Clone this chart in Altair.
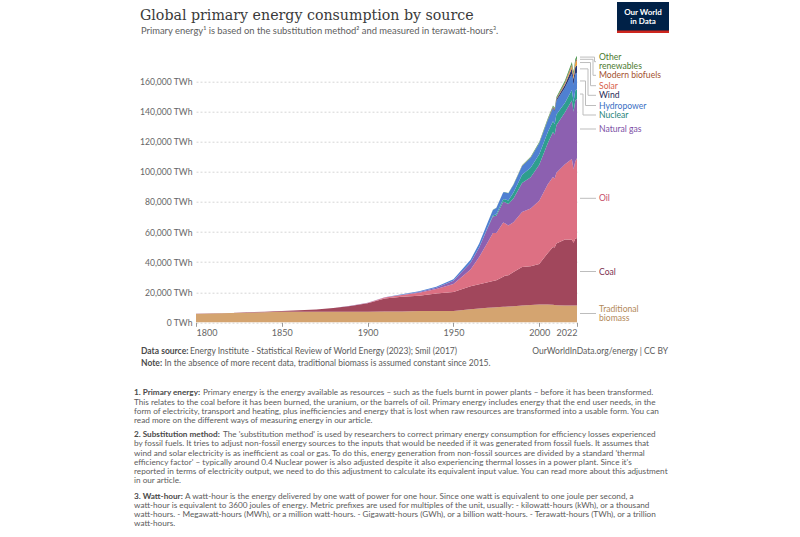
import altair as alt
import pandas as pd

# ---------------- data (TWh, substitution method) ----------------
years = [1800, 1810, 1820, 1830, 1840, 1850, 1860, 1870, 1880, 1890, 1900, 1910, 1920, 1930,
         1940, 1950, 1960, 1965, 1970, 1973, 1975, 1979, 1980, 1982, 1985, 1990, 1995, 2000,
         2005, 2008, 2009, 2010, 2015, 2019, 2020, 2021, 2022]

biomass = [5556, 5833, 6111, 6389, 6667, 6944, 6944, 6944, 6944, 6944, 6944, 7222, 7222, 7500,
           7500, 7500, 8600, 9200, 9600, 9900, 10000, 10300, 10400, 10500, 10700, 11200, 11500,
           11800, 11800, 11600, 11500, 11400, 11111, 11111, 11111, 11111, 11111]
coal = [97, 128, 153, 264, 356, 569, 1061, 1642, 2542, 3856, 5728, 8656, 9833, 10125, 11586,
        12603, 15442, 16140, 17000, 17500, 17900, 20000, 20500, 20800, 22800, 25600, 25700,
        27000, 34300, 38500, 38300, 41000, 44000, 43800, 41800, 44500, 45000]
oil = [0, 0, 0, 0, 0, 0, 0, 6, 33, 89, 181, 569, 1097, 1972, 3069, 5444, 11000, 18100, 26700,
       32000, 31500, 36000, 35000, 33000, 33000, 36500, 38500, 42000, 45700, 46500, 45800,
       47100, 50000, 53600, 48800, 51500, 53000]
gas = [0, 0, 0, 0, 0, 0, 0, 0, 0, 33, 64, 142, 233, 603, 875, 2092, 4600, 6300, 9600, 11000,
       11500, 13800, 14000, 14300, 15800, 19300, 20800, 24000, 27400, 30000, 29300, 31600,
       34500, 39000, 38300, 40300, 39400]
nuclear = [0] * 17 + [70, 220, 550, 1000, 1700, 1900, 2400, 4000, 5500, 6300, 7000, 7300, 7100,
                      7000, 7100, 6400, 6900, 6600, 6800, 6500]
hydro = [0] * 10 + [50, 100, 200, 400, 600, 1000, 2000] + [2600, 3400, 3800, 4100, 4600, 4700,
         4800, 5200, 5800, 6600, 7300, 7900, 8500, 8500, 9000, 9900, 10800, 11200, 11000, 10900]
wind = [0] * 25 + [10, 25, 85, 280, 560, 710, 900, 2100, 3500, 3900, 4500, 5200]
solar = [0] * 27 + [3, 10, 30, 50, 80, 650, 1700, 2100, 2500, 3200]
biofuels = [0] * 25 + [110, 120, 110, 220, 600, 650, 700, 850, 1050, 1000, 1050, 1100]
other = [0] * 17 + [50, 70, 90, 110, 150, 160, 190, 260, 370, 470, 560, 700, 840, 900, 980,
                    1300, 1650, 1700, 1800, 1850]

series_names = ["Traditional biomass", "Coal", "Oil", "Natural gas", "Nuclear", "Hydropower",
                "Wind", "Solar", "Modern biofuels", "Other renewables"]
series_values = [biomass, coal, oil, gas, nuclear, hydro, wind, solar, biofuels, other]
area_colors = ["#D4A470", "#A1475C", "#DD7083", "#8C60B0", "#2E9E8E", "#4F80D2",
               "#2B3A78", "#F0A23E", "#B5553F", "#4C9A52"]
label_colors = ["#B3895A", "#7C3050", "#C64B68", "#7C4FA5", "#1E8378", "#3A6FC4",
                "#1F2A55", "#D8624B", "#A4512E", "#4C7A2E"]

x_ticks = [1800, 1850, 1900, 1950, 2000, 2022]
y_ticks = [0, 20000, 40000, 60000, 80000, 100000, 120000, 140000, 160000]

rows = []
for i, (name, vals) in enumerate(zip(series_names, series_values)):
    for yr, v in zip(years, vals):
        rows.append({"year": yr, "source": name, "value": v, "ord": i})
df = pd.DataFrame(rows)

totals = [sum(s[k] for s in series_values) for k in range(len(years))]
ymax = max(totals)

# ---------------- layout ----------------
PX_PER = 0.001504
LEFT, RIGHT_EDGE, ZERO_Y = 196, 577, 322.3
W = RIGHT_EDGE - LEFT
H = ymax * PX_PER
TOP = ZERO_Y - H

FONT = "Lato"
GREY = "#5b5b5b"


def rx(x):
    return x - LEFT


def ry(y):
    return y - TOP


def texts(items, **mk):
    d = pd.DataFrame([{"t": t, "x": rx(x), "y": ry(y)} for t, x, y in items])
    return alt.Chart(d).mark_text(baseline="middle", **mk).encode(
        x=alt.X("x:Q", scale=None, axis=None),
        y=alt.Y("y:Q", scale=None, axis=None),
        text="t:N",
    )


area = alt.Chart(df).mark_area(interpolate="linear").encode(
    x=alt.X("year:Q",
            scale=alt.Scale(domain=[1800, 2022], nice=False, zero=False),
            axis=alt.Axis(values=x_ticks, format="d", labelFlush=True, grid=False,
                          domain=False, ticks=True, tickSize=4, tickColor="#999",
                          labelFont=FONT, labelFontSize=9, labelColor="#666",
                          labelPadding=2, title=None)),
    y=alt.Y("value:Q", stack="zero",
            scale=alt.Scale(domain=[0, ymax], nice=False),
            axis=alt.Axis(values=y_ticks, labelExpr="format(datum.value, ',') + ' TWh'",
                          grid=True, gridDash=[2, 2], gridColor="#d6d6d6", domain=False,
                          ticks=False, tickSize=0, labelFont=FONT, labelFontSize=8.6,
                          labelColor="#666", labelPadding=4, title=None)),
    color=alt.Color("source:N", scale=alt.Scale(domain=series_names, range=area_colors),
                    legend=None),
    order=alt.Order("ord:Q", sort="ascending"),
)

# ---------------- end labels with leader lines ----------------
last = {name: vals[-1] for name, vals in zip(series_names, series_values)}
cum = 0
mids = {}
for name in series_names:
    mids[name] = ZERO_Y - (cum + last[name] / 2) * PX_PER
    cum += last[name]

label_y = {"Other renewables": 61.7, "Modern biofuels": 75.3, "Solar": 85.7, "Wind": 95.3,
           "Hydropower": 105.5, "Nuclear": 115.0, "Natural gas": 129.0, "Oil": 198.3,
           "Coal": 271.5, "Traditional biomass": 313.5}
elbow_x = {"Nuclear": 583, "Hydropower": 585.5, "Wind": 588, "Solar": 590.5,
           "Modern biofuels": 593, "Other renewables": 594.5}

segs = []
x0, x1 = 580, 596
for name in series_names:
    ly = label_y[name]
    if name in elbow_x:
        ex = elbow_x[name]
        my = mids[name]
        segs += [(x0, my, ex, my), (ex, my, ex, ly), (ex, ly, x1, ly)]
    else:
        segs.append((x0, ly, x1, ly))
seg_df = pd.DataFrame([{"x": rx(a), "y": ry(b), "x2": rx(c), "y2": ry(d)} for a, b, c, d in segs])
leaders = alt.Chart(seg_df).mark_rule(color="#bdbdbd", strokeWidth=1).encode(
    x=alt.X("x:Q", scale=None, axis=None), x2="x2:Q",
    y=alt.Y("y:Q", scale=None, axis=None), y2="y2:Q",
)

label_lines = {"Other renewables": ["Other", "renewables"],
               "Traditional biomass": ["Traditional", "biomass"]}
label_layers = []
for name, col in zip(series_names, label_colors):
    lines = label_lines.get(name, [name])
    n = len(lines)
    items = [(ln, 599, label_y[name] + (k - (n - 1) / 2) * 8.8) for k, ln in enumerate(lines)]
    label_layers.append(texts(items, align="left", font=FONT, fontSize=8.6, color=col))

# ---------------- header / footer / notes ----------------
title = texts([("Global primary energy consumption by source", 140, 16)],
              align="left", font="DejaVu Serif", fontSize=14.2, color="#3a3a3a")
subtitle = texts([("Primary energy\u00b9 is based on the substitution method\u00b2 and measured in terawatt-hours\u00b3.", 141, 31)],
                 align="left", font=FONT, fontSize=9.4, color="#5e5e5e")

logo_bg = alt.Chart(pd.DataFrame({"a": [0]})).mark_rect(color="#002147").encode(
    x=alt.value(rx(617)), x2=alt.value(rx(669)), y=alt.value(ry(2)), y2=alt.value(ry(33)))
logo_red = alt.Chart(pd.DataFrame({"a": [0]})).mark_rect(color="#ce261e").encode(
    x=alt.value(rx(617)), x2=alt.value(rx(669)), y=alt.value(ry(30.5)), y2=alt.value(ry(33)))
logo_txt = texts([("Our World", 643, 12.5), ("in Data", 643, 21.5)],
                 align="center", font=FONT, fontSize=8, fontWeight="bold", color="white")

foot_bold = texts([("Data source:", 141, 351), ("Note:", 141, 362.5)],
                  align="left", font=FONT, fontSize=8.5, fontWeight="bold", color="#4a4a4a")
foot_reg = texts([("Energy Institute - Statistical Review of World Energy (2023); Smil (2017)", 190, 351),
                  ("In the absence of more recent data, traditional biomass is assumed constant since 2015.", 164.5, 362.5)],
                 align="left", font=FONT, fontSize=8.5, color=GREY)
foot_right = texts([("OurWorldInData.org/energy | CC BY", 668, 351)],
                   align="right", font=FONT, fontSize=8.5, color=GREY)

NF = 8.2
notes_bold = texts([("1. Primary energy:", 134, 393.3),
                    ("2. Substitution method:", 134, 435.3),
                    ("3. Watt-hour:", 134, 496.5)],
                   align="left", font=FONT, fontSize=NF, fontWeight="bold", color="#4a4a4a")
notes_reg = texts([
    ("Primary energy is the energy available as resources \u2013 such as the fuels burnt in power plants \u2013 before it has been transformed.", 203, 393.3),
    ("This relates to the coal before it has been burned, the uranium, or the barrels of oil. Primary energy includes energy that the end user needs, in the", 134, 402.6),
    ("form of electricity, transport and heating, plus inefficiencies and energy that is lost when raw resources are transformed into a usable form. You can", 134, 412.0),
    ("read more on the different ways of measuring energy in our article.", 134, 421.3),
    ("The 'substitution method' is used by researchers to correct primary energy consumption for efficiency losses experienced", 223, 435.3),
    ("by fossil fuels. It tries to adjust non-fossil energy sources to the inputs that would be needed if it was generated from fossil fuels. It assumes that", 134, 444.3),
    ("wind and solar electricity is as inefficient as coal or gas. To do this, energy generation from non-fossil sources are divided by a standard 'thermal", 134, 453.5),
    ("efficiency factor' \u2013  typically around 0.4 Nuclear power is also adjusted despite it also experiencing thermal losses in a power plant. Since it's", 134, 462.7),
    ("reported in terms of electricity output, we need to do this adjustment to calculate its equivalent input value. You can read more about this adjustment", 134, 472.0),
    ("in our article.", 134, 481.3),
    ("A watt-hour is the energy delivered by one watt of power for one hour. Since one watt is equivalent to one joule per second, a", 185, 496.5),
    ("watt-hour is equivalent to 3600 joules of energy. Metric prefixes are used for multiples of the unit, usually: - kilowatt-hours (kWh), or a thousand", 134, 505.8),
    ("watt-hours. - Megawatt-hours (MWh), or a million watt-hours. - Gigawatt-hours (GWh), or a billion watt-hours. - Terawatt-hours (TWh), or a trillion", 134, 515.0),
    ("watt-hours.", 134, 524.3),
], align="left", font=FONT, fontSize=NF, color=GREY)

chart = alt.layer(
    area, leaders, *label_layers, title, subtitle, logo_bg, logo_red, logo_txt,
    foot_bold, foot_reg, foot_right, notes_bold, notes_reg,
).properties(
    width=W, height=H,
    autosize=alt.AutoSizeParams(type="none"),
    padding={"left": LEFT, "top": TOP, "right": 800 - RIGHT_EDGE, "bottom": 537 - ZERO_Y},
    background="white",
).configure_view(strokeWidth=0)

chart.save("out.html", embed_options={"renderer": "svg", "actions": False})
